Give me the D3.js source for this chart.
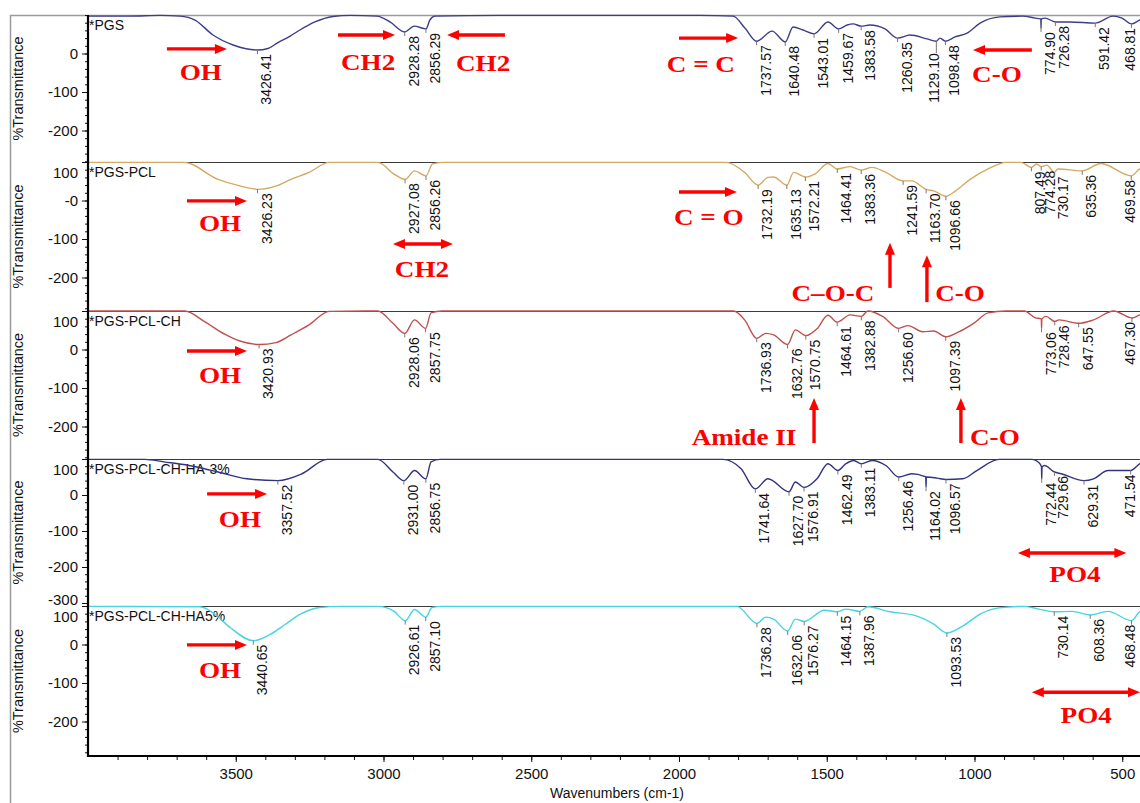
<!DOCTYPE html>
<html>
<head>
<meta charset="utf-8">
<script src="https://cdn.jsdelivr.net/npm/d3@7"></script>
<style>
  html, body { margin: 0; padding: 0; background: #fff; }
  svg { display: block; }
</style>
</head>
<body>
<svg id="chart" width="1140" height="803"></svg>
<script>
// ---------- data: FTIR spectra, [wavenumber cm-1, %T] ----------
const sampleNames = ["PGS", "PGS-PCL", "PGS-PCL-CH", "PGS-PCL-CH-HA-3%", "PGS-PCL-CH-HA5%"];

const pgsSpectrum = [[4000,97],[3858,97],[3756,99],[3689,97],[3638,87],[3577,48],[3509,22],[3469,13],[3426.41,9],[3391,13],[3360,27],[3316,45],[3283,61],[3232,82],[3171,96],[3113,99],[3022,97],[2978,82],[2928.28,56],[2896,71],[2856.29,64],[2843,87],[2826,97],[2606,99],[2267,99],[1929,99],[1817,97],[1777,66],[1737.57,32],[1685,58],[1640.48,30],[1614,69],[1580,61],[1543.01,51],[1496,82],[1459.67,64],[1431,74],[1411,77],[1383.58,71],[1354,74],[1303,64],[1260.35,40],[1218,48],[1161,38],[1129.10,32],[1117,40],[1098.48,32],[1066,43],[1025,53],[981,79],[914,95],[836,97],[795,92],[777,90],[775.6,90],[774.90,66],[774.2,90],[761,92],[726.28,82],[677,82],[591.42,79],[531,97],[501,92],[468.81,77],[440,87],[400,92]];

const pgsPclSpectrum = [[4000,99],[3675,99],[3560,55],[3486,38],[3426.23,29],[3362,38],[3313,55],[3252,73],[3184,99],[3019,99],[2963,68],[2927.08,55],[2895,77],[2856.26,64],[2834,95],[2802,99],[1840,99],[1778,73],[1732.19,40],[1699,60],[1680,61],[1635.13,40],[1612,73],[1572.21,61],[1538,70],[1496,96],[1464.41,82],[1421,88],[1383.36,79],[1347,86],[1300,73],[1241.59,51],[1212,51],[1163.70,29],[1138,25],[1096.66,11],[1064,25],[1015,55],[954,82],[893,99],[843,99],[807.49,86],[790,95],[774.28,88],[755,92],[730.17,73],[718,82],[635.36,77],[572,96],[469.58,64],[440,82],[400,86]];

const pgsPclChSpectrum = [[4000,100],[3672,100],[3607,73],[3536,39],[3486,22],[3420.93,13],[3364,18],[3313,38],[3252,64],[3184,99],[3019,100],[2968,68],[2928.06,42],[2895,77],[2857.75,55],[2839,95],[2802,100],[1815,100],[1778,77],[1736.93,29],[1706,42],[1680,38],[1632.76,13],[1606,51],[1570.75,36],[1533,54],[1496,89],[1464.61,71],[1421,90],[1382.88,86],[1361,100],[1311,86],[1256.60,55],[1225,62],[1175,46],[1138,48],[1097.39,33],[1053,46],[1003,68],[954,95],[893,100],[831,100],[794,82],[776,80],[773.9,79],[773.06,55],[772.2,79],[758,86],[728.46,73],[714,77],[647.55,68],[597,77],[529,100],[467.30,82],[440,90],[400,95]];

const ha3Spectrum = [[4000,99],[3807,99],[3743,92],[3658,82],[3560,64],[3462,45],[3357.52,40],[3276,59],[3191,99],[3019,99],[2968,64],[2931.00,40],[2895,68],[2856.75,45],[2839,92],[2809,99],[1852,99],[1790,73],[1741.64,17],[1699,45],[1627.70,9],[1606,36],[1576.91,21],[1533,45],[1496,87],[1462.49,68],[1435,87],[1409,96],[1383.11,87],[1347,96],[1300,82],[1256.46,50],[1212,59],[1170,52],[1165,50],[1164.02,22],[1163,50],[1127,47],[1096.57,43],[1040,45],[992,68],[917,99],[806,99],[780,88],[773.4,78],[772.44,45],[771.5,78],[763,82],[729.66,64],[707,59],[629.31,40],[597,45],[548,68],[471.54,68],[440,87],[400,96]];

const ha5Spectrum = [[4000,99],[3621,98],[3570,78],[3519,44],[3440.65,10],[3384,26],[3333,52],[3283,78],[3215,96],[3147,99],[3019,99],[2964,86],[2926.61,62],[2895,91],[2857.10,71],[2836,96],[2802,99],[1804,99],[1736.28,55],[1706,71],[1680,66],[1632.06,35],[1606,66],[1576.27,60],[1508,89],[1464.15,85],[1435,92],[1387.96,86],[1361,98],[1286,85],[1200,75],[1138,53],[1093.53,30],[1040,48],[978,80],[917,95],[831,99],[782,92],[730.14,85],[670,86],[608.36,77],[548,86],[468.48,62],[440,85],[400,90]];

// picked peak positions (cm-1) for each sample
const pgsPeaks = [3426.41, 2928.28, 2856.29, 1737.57, 1640.48, 1543.01, 1459.67, 1383.58, 1260.35, 1129.10, 1098.48, 774.90, 726.28, 591.42, 468.81];
const pgsPclPeaks = [3426.23, 2927.08, 2856.26, 1732.19, 1635.13, 1572.21, 1464.41, 1383.36, 1241.59, 1163.70, 1096.66, 807.49, 774.28, 730.17, 635.36, 469.58];
const pgsPclChPeaks = [3420.93, 2928.06, 2857.75, 1736.93, 1632.76, 1570.75, 1464.61, 1382.88, 1256.60, 1097.39, 773.06, 728.46, 647.55, 467.30];
const ha3Peaks = [3357.52, 2931.00, 2856.75, 1741.64, 1627.70, 1576.91, 1462.49, 1383.11, 1256.46, 1164.02, 1096.57, 772.44, 729.66, 629.31, 471.54];
const ha5Peaks = [3440.65, 2926.61, 2857.10, 1736.28, 1632.06, 1576.27, 1464.15, 1387.96, 1093.53, 730.14, 608.36, 468.48];

// axis ticks
const xTickValues = [3500, 3000, 2500, 2000, 1500, 1000, 500];
const yTickSets = [[0, -100, -200], [100, 0, -100, -200], [100, 0, -100, -200], [100, 0, -100, -200, -300], [100, 0, -100, -200]];

// band assignments: arrows [panel, [wn,%T] tail, [wn,%T] head, double-headed]
const bandArrows = [
  [0, [3733, 12], [3530, 12], false],
  [0, [3154, 48], [2961, 48], false],
  [0, [2589, 48], [2785, 48], false],
  [0, [2000, 40], [1800, 40], false],
  [0, [806, 9], [1005, 9], false],
  [1, [3665, -1], [3462, -1], false],
  [1, [2968, -113], [2765, -113], true],
  [1, [2000, 22], [1804, 22], false],
  [1, [1286, -227], [1286, -110], false],
  [1, [1161, -264], [1161, -142], false],
  [2, [3665, -4], [3462, -4], false],
  [2, [1543, -243], [1543, -126], false],
  [2, [1046, -243], [1046, -126], false],
  [3, [3597, 3], [3394, 3], false],
  [3, [853, -161], [486, -161], true],
  [4, [3665, -1], [3462, -1], false],
  [4, [806, -124], [440, -124], true]
];
// band labels [panel, text, [wn,%T] centre of baseline]
const bandLabels = [
  [0, "OH", [3618, -69]],
  [0, "CH2", [3052, -43]],
  [0, "CH2", [2663, -45]],
  [0, "C = C", [1926, -48]],
  [0, "C-O", [924, -74]],
  [1, "OH", [3553, -79]],
  [1, "CH2", [2870, -199]],
  [1, "C = O", [1899, -64]],
  [1, "C\u2013O-C", [1479, -261]],
  [1, "C-O", [1049, -261]],
  [2, "OH", [3553, -87]],
  [2, "Amide II", [1780, -248]],
  [2, "C-O", [931, -248]],
  [3, "OH", [3486, -89]],
  [3, "PO4", [660, -242]],
  [4, "OH", [3553, -87]],
  [4, "PO4", [622, -205]]
];

// ---------- layout ----------
const spectra = [pgsSpectrum, pgsPclSpectrum, pgsPclChSpectrum, ha3Spectrum, ha5Spectrum];
const peakSets = [pgsPeaks, pgsPclPeaks, pgsPclChPeaks, ha3Peaks, ha5Peaks];
const lineColors = ["#3d3d8a", "#d4aa62", "#c0504d", "#33337f", "#48d4e2"];

const W = 1140, axisX = 88, axisBottom = 756;
const sans = "Liberation Sans, Arial, sans-serif";
// vertical frame of each stacked panel: top edge, bottom edge, pixel row of 0 %T
const panelFrames = [
  { top: 15, bottom: 162, zero: 53.5 },
  { top: 162, bottom: 311, zero: 200.5 },
  { top: 311, bottom: 459, zero: 349.5 },
  { top: 459, bottom: 606, zero: 495 },
  { top: 606, bottom: axisBottom, zero: 644.5 }
];

const svg = d3.select("#chart");
const x = d3.scaleLinear().domain([4000, 400]).range([axisX, 1151.8]);

const panels = panelFrames.map(f => {
  const y = d3.scaleLinear().domain([0, 100]).range([f.zero, f.top]);
  return { ...f, y, min: y.invert(f.bottom) };
});

// outer frame
svg.append("line").attr("x1", 10).attr("x2", W).attr("y1", 15.5).attr("y2", 15.5)
  .attr("stroke", "#9a9a9a").attr("stroke-width", 1.5);
svg.append("line").attr("x1", 10.5).attr("x2", 10.5).attr("y1", 15).attr("y2", 803)
  .attr("stroke", "#9a9a9a").attr("stroke-width", 1.5);

// panel separators
panels.slice(1).forEach(p => {
  svg.append("line").attr("x1", axisX).attr("x2", W).attr("y1", p.top + 0.5).attr("y2", p.top + 0.5)
    .attr("stroke", "#3a3a3a").attr("stroke-width", 1.2);
});

const fmt = d3.format(".2f");

panels.forEach((p, i) => {
  const g = svg.append("g");

  // y axis: major ticks every 100, minor every 20
  const minor = d3.range(Math.ceil(p.min / 20) * 20, 101, 20);
  g.append("g").attr("transform", `translate(${axisX},0)`)
    .call(d3.axisLeft(p.y).tickValues(minor).tickSize(3).tickFormat(""))
    .call(s => s.select(".domain").remove())
    .call(s => s.selectAll("line").attr("stroke", "#111"));
  const ya = g.append("g").attr("transform", `translate(${axisX},0)`)
    .call(d3.axisLeft(p.y).tickValues(yTickSets[i]).tickSize(6).tickPadding(4)
      .tickFormat(v => (i === 1 && v === 0) ? "-0" : String(v)))
    .call(s => s.select(".domain").remove());
  ya.selectAll("line").attr("stroke", "#111");
  ya.selectAll("text").attr("font-family", sans)
    .attr("font-size", 15).attr("fill", "#111")
    .attr("dy", v => v === 100 ? "1.0em" : (v === -300 ? "0.1em" : "0.32em"));

  // axis title
  g.append("text")
    .attr("transform", `translate(23,${(p.top + p.bottom) / 2}) rotate(-90)`)
    .attr("text-anchor", "middle")
    .attr("font-family", sans).attr("font-size", 14.5).attr("fill", "#111")
    .text("%Transmittance");

  // sample name
  g.append("text").attr("x", 89).attr("y", p.top + 14.5)
    .attr("font-family", sans).attr("font-size", 14).attr("fill", "#111")
    .text("*" + sampleNames[i]);

  // spectrum
  const path = d3.line().x(d => x(d[0])).y(d => p.y(d[1])).curve(d3.curveMonotoneX);
  g.append("path").datum(spectra[i])
    .attr("d", path).attr("fill", "none")
    .attr("stroke", lineColors[i]).attr("stroke-width", 1.4);

  // peak labels (rotated), nudged apart when two picks nearly coincide
  const lookup = new Map(spectra[i].map(d => [d[0], d[1]]));
  const marks = peakSets[i].map(wn => {
    const v = lookup.get(wn);
    return { wn, px: x(wn), py: p.y(v), bx: x(wn) + 14, drop: 0 };
  }).sort((a, b) => a.px - b.px);
  for (let k = marks.length - 2; k >= 0; k--) {
    if (marks[k + 1].bx - marks[k].bx < 9.5) { marks[k].bx = marks[k + 1].bx - 20; marks[k].drop = 8; }
  }
  marks.forEach(m => {
    m.bx = Math.min(m.bx, W - 5);
    g.append("line").attr("x1", m.px).attr("x2", m.px).attr("y1", m.py).attr("y2", m.py + 4 + m.drop)
      .attr("stroke", "#777").attr("stroke-width", 1);
    g.append("text")
      .attr("transform", `translate(${m.bx},${m.py + 4 + m.drop}) rotate(-90)`)
      .attr("text-anchor", "end")
      .attr("font-family", sans).attr("font-size", 14).attr("fill", "#111")
      .text(fmt(m.wn));
  });
});

// left axis line and bottom axis
svg.append("line").attr("x1", axisX).attr("x2", axisX).attr("y1", 15).attr("y2", axisBottom + 1)
  .attr("stroke", "#000").attr("stroke-width", 2.2);

const xMinor = d3.range(3900, 399, -100);
svg.append("g").attr("transform", `translate(0,${axisBottom})`)
  .call(d3.axisBottom(x).tickValues(xMinor).tickSize(4).tickFormat(""))
  .call(s => s.select(".domain").remove())
  .call(s => s.selectAll("line").attr("stroke", "#111"));
const xa = svg.append("g").attr("transform", `translate(0,${axisBottom})`)
  .call(d3.axisBottom(x).tickValues(xTickValues).tickSize(6).tickPadding(6).tickFormat(d3.format("d")));
xa.select(".domain").remove();
xa.selectAll("line").attr("stroke", "#111");
xa.selectAll("text").attr("font-family", sans).attr("font-size", 15).attr("fill", "#111");
svg.append("line").attr("x1", axisX).attr("x2", W).attr("y1", axisBottom).attr("y2", axisBottom)
  .attr("stroke", "#000").attr("stroke-width", 2.2);
svg.append("text").attr("x", 617).attr("y", 798).attr("text-anchor", "middle")
  .attr("font-family", sans).attr("font-size", 14).attr("fill", "#111")
  .text("Wavenumbers (cm-1)");

// ---------- band annotations ----------
const red = "#ff0000";
const ann = svg.append("g");
function head(g, tip, dx, dy) {
  const L = 12, Wd = 5;
  const bx = tip[0] - dx * L, by = tip[1] - dy * L;
  const nx = -dy, ny = dx;
  g.append("path")
    .attr("d", `M${tip[0]},${tip[1]}L${bx + nx * Wd},${by + ny * Wd}L${bx - nx * Wd},${by - ny * Wd}Z`)
    .attr("fill", red);
}
bandArrows.forEach(([pi, a, b, dbl]) => {
  const p = panels[pi];
  const A = [x(a[0]), p.y(a[1])], B = [x(b[0]), p.y(b[1])];
  const len = Math.hypot(B[0] - A[0], B[1] - A[1]);
  const dx = (B[0] - A[0]) / len, dy = (B[1] - A[1]) / len;
  const s0 = dbl ? [A[0] + dx * 10, A[1] + dy * 10] : A;
  const s1 = [B[0] - dx * 10, B[1] - dy * 10];
  ann.append("line").attr("x1", s0[0]).attr("y1", s0[1]).attr("x2", s1[0]).attr("y2", s1[1])
    .attr("stroke", red).attr("stroke-width", 3.4);
  head(ann, B, dx, dy);
  if (dbl) head(ann, A, -dx, -dy);
});
bandLabels.forEach(([pi, txt, at]) => {
  const p = panels[pi];
  ann.append("text")
    .attr("transform", `translate(${x(at[0])},${p.y(at[1])}) scale(1.18,1)`)
    .attr("text-anchor", "middle")
    .attr("font-family", "Liberation Serif, Times New Roman, serif")
    .attr("font-weight", "bold").attr("font-size", 23).attr("fill", red)
    .text(txt);
});
</script>
</body>
</html>
